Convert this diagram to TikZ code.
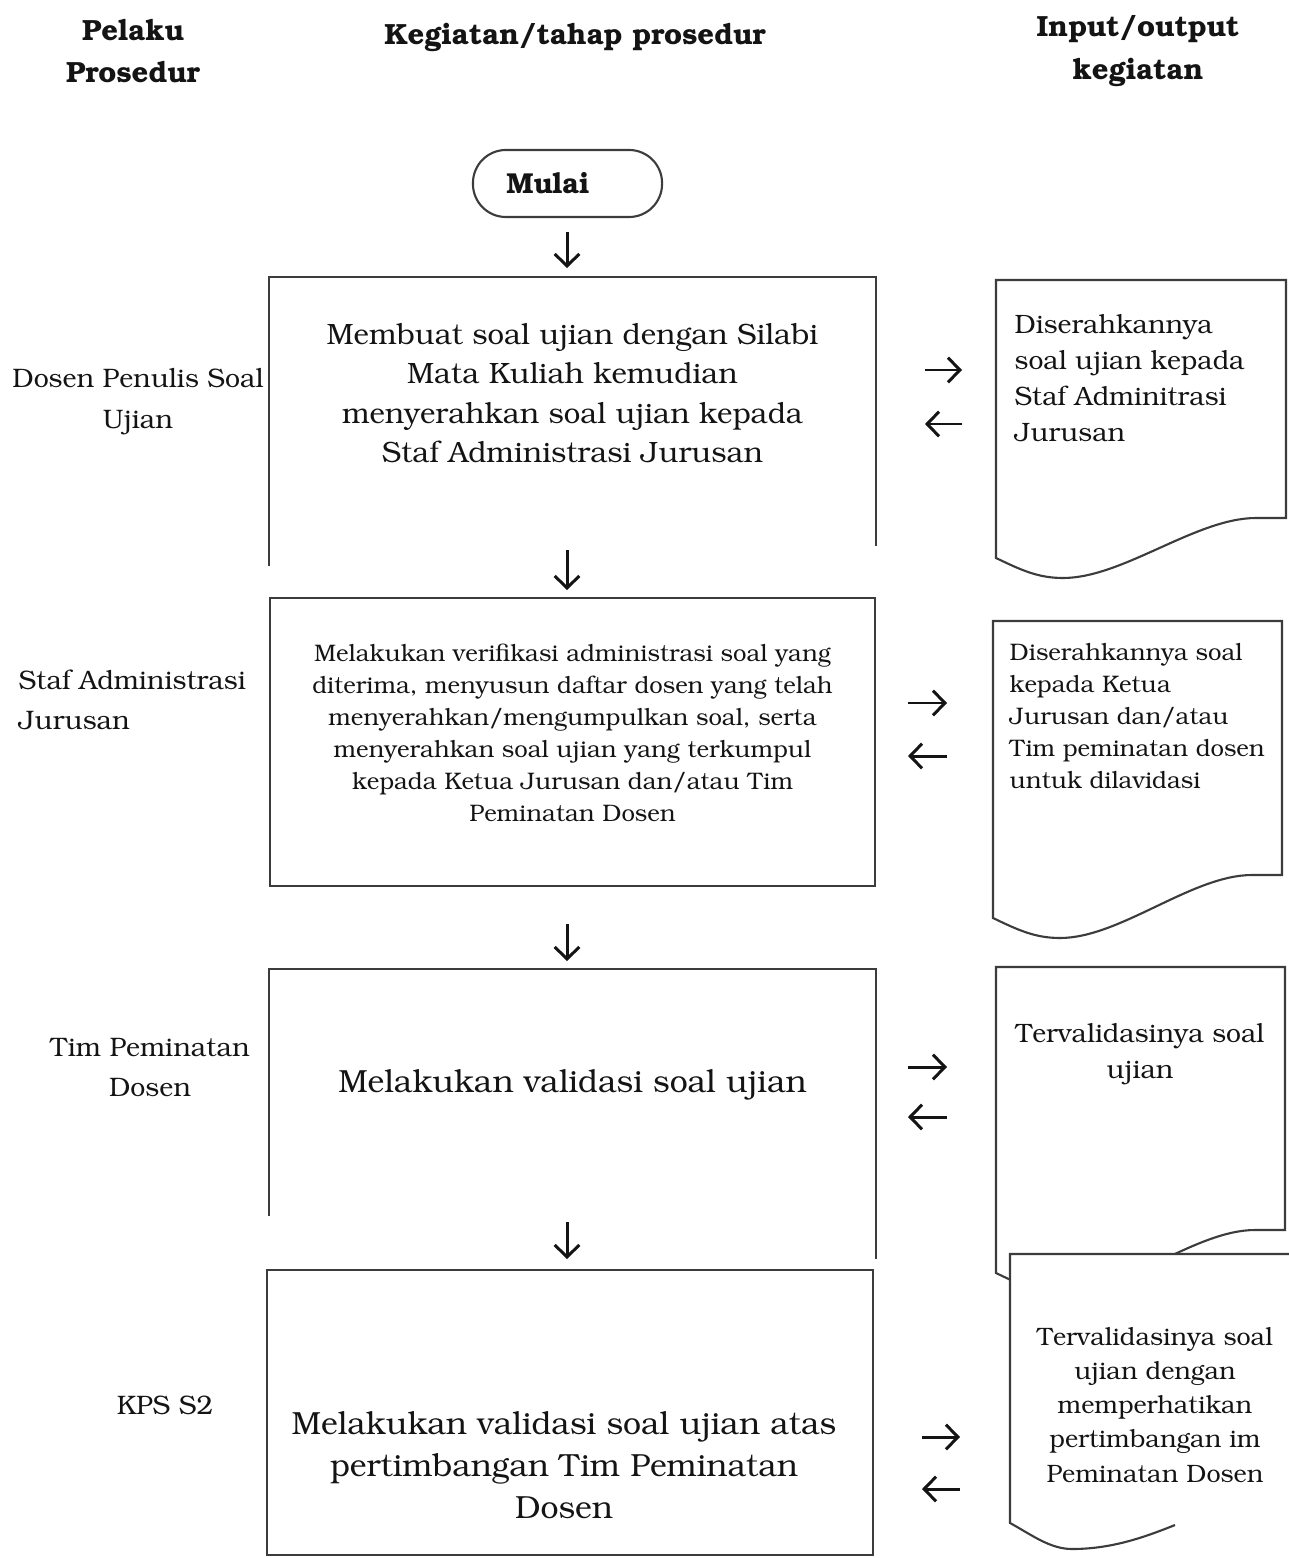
\documentclass[tikz,border=0pt]{standalone}
\usepackage[T1]{fontenc}
\usepackage{bookman}
\usetikzlibrary{arrows.meta,calc}

\definecolor{ink}{HTML}{141414}
\definecolor{rule}{HTML}{3C3C3C}

% document symbol: left x, top y, right x, bottom y left, bottom y right
\newcommand{\paper}[5]{%
  \coordinate (pl) at (#1,#4);
  \coordinate (pr) at (#3,#5);
  \filldraw[paperline] (#1,#2) -- (pl) .. controls +(25,12) and +(-25,0) .. ($(pl)+(67,20)$)
    .. controls +(60,0) and +(-60,0) .. ($(pr)+(-30,0)$) -- (pr) -- (#3,#2) -- cycle;}

\begin{document}
\begin{tikzpicture}[x=0.01cm,y=-0.01cm]
  \tikzset{head/.style={font=\bfseries\fontsize{8.3}{12}\selectfont,align=center,text=ink,inner sep=0pt}}
  \tikzset{actor/.style={font=\fontsize{7.6}{11.4}\selectfont,align=center,text=ink,inner sep=0pt}}
  \tikzset{stepbox/.style={rectangle,inner sep=0pt,minimum width=6.05cm,minimum height=#1}}
  \tikzset{boxline/.style={draw=rule,line width=0.6pt}}
  \tikzset{paperline/.style={draw=rule,fill=white,line width=0.6pt}}
  \tikzset{flow/.style={draw=ink,line width=0.85pt,-{Straight Barb[length=3.4pt,width=7pt]}}}
  \tikzset{terminal/.style={draw=rule,line width=0.6pt,rounded corners=0.33cm,minimum width=1.89cm,minimum height=0.67cm}}
  \useasboundingbox (0,0) rectangle (1288,1558);

  % column headings
  \node[head] (hpel) at (133,51) {Pelaku\\Prosedur};
  \node[head] (hkeg) at (575,37) {Kegiatan/tahap prosedur};
  \node[head] (hio) at (1138,51) {Input/output\\kegiatan};

  % start
  \node[terminal] (mulai) at (567.5,183.5) {};
  \node[head,font=\bfseries\fontsize{8.2}{10}\selectfont] (tmulai) at (548,183) {Mulai};

  % process steps
  \node[stepbox=2.67cm] (b1) at (572.5,411.5) {};
  \draw[boxline] ($(b1.south west)+(0,20)$) -- (b1.north west) -- (b1.north east) -- (b1.south east);
  \node[actor,font=\fontsize{8.35}{11.1}\selectfont] (t1) at ($(b1.center)+(0,-18)$)
    {Membuat soal ujian dengan Silabi\\Mata Kuliah kemudian\\menyerahkan soal ujian kepada\\Staf Administrasi Jurusan};

  \node[stepbox=2.88cm,draw=rule,line width=0.6pt] (b2) at (572.5,742) {};
  \node[actor,font=\fontsize{6.8}{9.1}\selectfont] (t2) at ($(b2.center)+(0,-9)$)
    {Melakukan verifikasi administrasi soal yang\\diterima, menyusun daftar dosen yang telah\\menyerahkan/mengumpulkan soal, serta\\menyerahkan soal ujian yang terkumpul\\kepada Ketua Jurusan dan/atau Tim\\Peminatan Dosen};

  \node[stepbox=2.88cm] (b3) at (572.5,1114) {};
  \draw[boxline] ($(b3.south west)+(0,-43)$) -- (b3.north west) -- (b3.north east) -- (b3.south east);
  \node[actor,font=\fontsize{9.1}{11}\selectfont] (t3) at ($(b3.center)+(0,-29)$)
    {Melakukan validasi soal ujian};

  \node[stepbox=2.85cm,draw=rule,line width=0.6pt] (b4) at (570,1412.5) {};
  \node[actor,font=\fontsize{9.1}{12}\selectfont] (t4) at ($(b4.center)+(-6,53)$)
    {Melakukan validasi soal ujian atas\\pertimbangan Tim Peminatan\\Dosen};

  % actors
  \node[actor] (p1) at (138,402) {Dosen Penulis Soal\\Ujian};
  \node[actor,align=left,anchor=west] (p2) at (18,700) {Staf Administrasi\\Jurusan};
  \node[actor] (p3) at (150,1067) {Tim Peminatan\\Dosen};
  \node[actor] (p4) at (165,1405) {KPS S2};

  % documents
  \paper{996}{280}{1286}{558}{518}
  \node[actor,font=\fontsize{7.55}{10.2}\selectfont,align=left,anchor=west] (d1) at (1014,378.5)
    {Diserahkannya\\soal ujian kepada\\Staf Adminitrasi\\Jurusan};
  \paper{993}{621}{1282}{918}{875}
  \node[actor,font=\fontsize{6.8}{9.1}\selectfont,align=left,anchor=west] (d2) at (1009,716)
    {Diserahkannya soal\\kepada Ketua\\Jurusan dan/atau\\Tim peminatan dosen\\untuk dilavidasi};
  \paper{996}{967}{1285}{1273}{1230}
  \node[actor,font=\fontsize{7.55}{10.5}\selectfont] (d3) at (1140,1054.5) {Tervalidasinya soal\\ujian};
  \fill[white] (1010,1254) -- (1010,1523) .. controls +(22,12) and +(-22,0) .. (1072,1549)
    .. controls +(40,0) and +(-30,12) .. (1175,1525) -- (1300,1500) -- (1300,1254) -- cycle;
  \draw[boxline] (1300,1254) -- (1010,1254) -- (1010,1523) .. controls +(22,12) and +(-22,0) .. (1072,1549)
    .. controls +(40,0) and +(-30,12) .. (1175,1525);
  \node[actor,font=\fontsize{7.15}{9.7}\selectfont] (d4) at (1155,1405)
    {Tervalidasinya soal\\ujian dengan\\memperhatikan\\pertimbangan im\\Peminatan Dosen};

  % flow arrows
  \foreach \ya/\yb [count=\i] in {232/268,550/590,924/961,1222/1259}{
    \coordinate (da\i) at (567,\ya);
    \coordinate (db\i) at (567,\yb);
    \draw[flow] (da\i) -- (db\i);
  }
  \foreach \xa/\xb/\yr/\yl [count=\i] in {925/962/370/424,908/947/703/756,908/947/1067/1117,922/960/1437/1489}{
    \coordinate (ra\i) at (\xa,\yr);
    \coordinate (rb\i) at (\xb,\yr);
    \draw[flow] (ra\i) -- (rb\i);
    \coordinate (la\i) at (\xb,\yl);
    \coordinate (lb\i) at (\xa,\yl);
    \draw[flow] (la\i) -- (lb\i);
  }
\end{tikzpicture}
\end{document}
